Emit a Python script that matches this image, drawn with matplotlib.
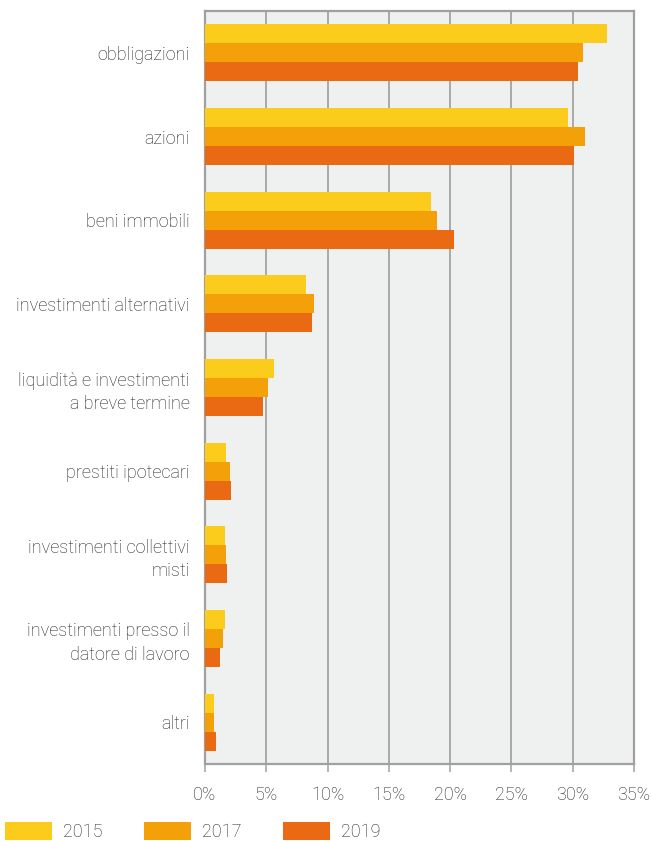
import matplotlib
matplotlib.use("Agg")
import matplotlib.pyplot as plt
import numpy as np
from matplotlib.patches import Patch

plt.rcParams["font.family"] = ["Roboto", "DejaVu Sans"]

categories = [
    "obbligazioni",
    "azioni",
    "beni immobili",
    "investimenti alternativi",
    "liquidità e investimenti\na breve termine",
    "prestiti ipotecari",
    "investimenti collettivi\nmisti",
    "investimenti presso il\ndatore di lavoro",
    "altri",
]
years = ["2015", "2017", "2019"]
values_2015 = [32.8, 29.6, 18.4, 8.2, 5.6, 1.7, 1.6, 1.6, 0.7]
values_2017 = [30.8, 31.0, 18.9, 8.9, 5.1, 2.0, 1.7, 1.5, 0.7]
values_2019 = [30.4, 30.1, 20.3, 8.7, 4.7, 2.1, 1.8, 1.2, 0.9]
colors = ["#FBCC1B", "#F4A008", "#EA6A13"]
xticks = [0, 5, 10, 15, 20, 25, 30, 35]

text_color = "#222222"
grid_color = "#A9A9A9"
fs = 13

fig = plt.figure(figsize=(6.52, 8.41), dpi=100)
ax = fig.add_axes([205 / 652, 1 - 764 / 841, 429 / 652, 753 / 841])
ax.set_facecolor("#EFF1F0")

y = np.arange(len(categories))
h = 0.226
for vals, off, col in zip([values_2015, values_2017, values_2019], [-h, 0, h], colors):
    ax.barh(y + off, vals, height=h, color=col, zorder=3)

ax.set_ylim(len(categories) - 0.5, -0.5)
ax.set_xlim(0, 35)
ax.set_yticks(y)
ax.set_yticklabels(categories, fontsize=fs, color=text_color,
                   fontweight="light", linespacing=1.4)
ax.tick_params(axis="y", length=0, pad=11)

ax.set_xticks(xticks)
ax.set_xticklabels([f"{t}%" for t in xticks], fontsize=fs, color=text_color,
                   fontweight="light")
ax.tick_params(axis="x", length=6, width=1.2, color=grid_color, pad=10)
ax.grid(axis="x", color=grid_color, linewidth=1.4, zorder=1)
ax.grid(axis="y", visible=False)
for s in ax.spines.values():
    s.set_color("#A0A0A0")
    s.set_linewidth(1.6)

handles = [Patch(facecolor=c, edgecolor="none") for c in colors]
fig.legend(handles, years, loc="lower left", bbox_to_anchor=(0.008, 0.0),
           ncol=3, frameon=False, labelcolor=text_color,
           prop={"weight": "light", "size": fs},
           handlelength=2.6, handleheight=1.2, handletextpad=0.6,
           columnspacing=2.3, borderaxespad=0.0, borderpad=0.0)

plt.savefig("out.png", dpi=100)
plt.close()
